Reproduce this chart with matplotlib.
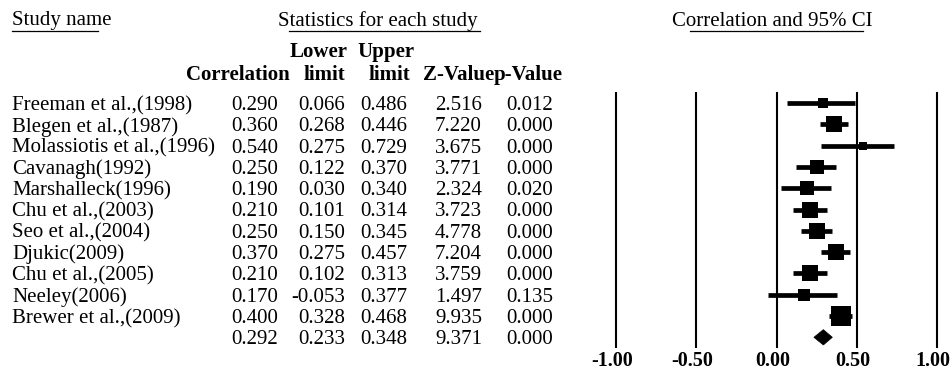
import matplotlib
matplotlib.use("Agg")
import matplotlib.pyplot as plt
import numpy as np
from matplotlib import transforms
from matplotlib.lines import Line2D
from matplotlib.patches import Polygon

# Study-level results (correlation with 95% CI)
studies = ["Freeman et al.,(1998)", "Blegen et al.,(1987)", "Molassiotis et al.,(1996)",
           "Cavanagh(1992)", "Marshalleck(1996)", "Chu et al.,(2003)", "Seo et al.,(2004)",
           "Djukic(2009)", "Chu et al.,(2005)", "Neeley(2006)", "Brewer et al.,(2009)"]
correlation = [0.290, 0.360, 0.540, 0.250, 0.190, 0.210, 0.250, 0.370, 0.210, 0.170, 0.400]
lower = [0.066, 0.268, 0.275, 0.122, 0.030, 0.101, 0.150, 0.275, 0.102, -0.053, 0.328]
upper = [0.486, 0.446, 0.729, 0.370, 0.340, 0.314, 0.345, 0.457, 0.313, 0.377, 0.468]
z_value = [2.516, 7.220, 3.675, 3.771, 2.324, 3.723, 4.778, 7.204, 3.759, 1.497, 9.935]
p_value = [0.012, 0.000, 0.000, 0.000, 0.020, 0.000, 0.000, 0.000, 0.000, 0.135, 0.000]
# relative study weights (%), shown as box area
weights = [4.6, 10.4, 2.9, 7.8, 7.8, 10.4, 10.4, 10.4, 10.4, 6.6, 18.4]

# Pooled estimate
pooled_r = 0.292
pooled_lower = 0.233
pooled_upper = 0.348
pooled_z = 9.371
pooled_p = 0.000

ticks = [-1.0, -0.5, 0.0, 0.5, 1.0]
tick_labels = ["-1.00", "-0.50", "0.00", "0.50", "1.00"]

plt.rcParams['font.family'] = ['Liberation Serif', 'DejaVu Serif']
FS = 15

W, H = 953, 371
fig = plt.figure(figsize=(W / 100, H / 100), dpi=100)


def fx(px):
    return px / W


def fy(py):
    return 1 - py / H


# Forest plot panel
top_px, bot_px = 93, 347
row0_px, row_step = 103, 21.3
ax = fig.add_axes([fx(616), fy(bot_px), fx(937) - fx(616), (bot_px - top_px) / H])
ax.set_xlim(-1, 1)
ax.set_ylim((bot_px - row0_px) / row_step, (top_px - row0_px) / row_step)
for s in ax.spines.values():
    s.set_visible(False)
ax.set_yticks([])
ax.set_xticks(ticks)
ax.set_xticklabels(tick_labels, fontweight='bold', fontsize=14.5)
ax.tick_params(axis='x', length=0, pad=3)
shift = transforms.ScaledTranslation(-4 / 100, 0, fig.dpi_scale_trans)
for lbl in ax.get_xticklabels():
    lbl.set_transform(lbl.get_transform() + shift)
for t in ticks:
    ax.axvline(t, color='black', lw=1.5, clip_on=False, zorder=1)

rows = np.arange(len(studies))
w = np.array(weights)
box_px = 20 * np.sqrt(w / w.max())
for i in rows:
    ax.plot([lower[i], upper[i]], [i, i], color='black', lw=3.4,
            solid_capstyle='butt', zorder=3)
    ax.plot(correlation[i], i, marker='s', color='black',
            markersize=box_px[i] * 0.72, markeredgewidth=0, zorder=4)

sum_row = len(studies)
half_h = 0.36
diamond = Polygon([[pooled_lower, sum_row], [pooled_r, sum_row - half_h],
                   [pooled_upper, sum_row], [pooled_r, sum_row + half_h]],
                  closed=True, facecolor='black', edgecolor='black', lw=0.5, zorder=4)
ax.add_patch(diamond)

# Table text aligned to the same rows
tr = transforms.blended_transform_factory(fig.transFigure, ax.transData)
tr = transforms.offset_copy(tr, fig=fig, y=-2.5, units='dots')
col_right = [278, 345, 407, 482, 553]
for i in rows:
    ax.text(fx(12), i, studies[i], transform=tr, ha='left', va='center', fontsize=FS)
    vals = [correlation[i], lower[i], upper[i], z_value[i], p_value[i]]
    for xr, v in zip(col_right, vals):
        ax.text(fx(xr), i, f"{v:.3f}", transform=tr, ha='right', va='center', fontsize=FS)
for xr, v in zip(col_right, [pooled_r, pooled_lower, pooled_upper, pooled_z, pooled_p]):
    ax.text(fx(xr), sum_row, f"{v:.3f}", transform=tr, ha='right', va='center', fontsize=FS)

# Section titles with underlines
fig.text(fx(12), fy(21), "Study name", ha='left', va='center', fontsize=FS)
fig.text(fx(278), fy(21), "Statistics for each study", ha='left', va='center', fontsize=FS)
fig.text(fx(672), fy(21), "Correlation and 95% CI", ha='left', va='center', fontsize=FS)
for x0, x1 in [(12, 98), (289, 480), (690, 863)]:
    fig.add_artist(Line2D([fx(x0), fx(x1)], [fy(31), fy(31)], transform=fig.transFigure,
                          color='black', lw=0.9))

# Column headers
hdr = dict(fontsize=FS, fontweight='bold', va='center')
fig.text(fx(348), fy(52), "Lower", ha='right', **hdr)
fig.text(fx(415), fy(52), "Upper", ha='right', **hdr)
fig.text(fx(290), fy(75), "Correlation", ha='right', **hdr)
fig.text(fx(345), fy(75), "limit", ha='right', **hdr)
fig.text(fx(410), fy(75), "limit", ha='right', **hdr)
fig.text(fx(494), fy(75), "Z-Value", ha='right', **hdr)
fig.text(fx(494), fy(75), "p-Value", ha='left', **hdr)

fig.savefig("out.png", dpi=100)
